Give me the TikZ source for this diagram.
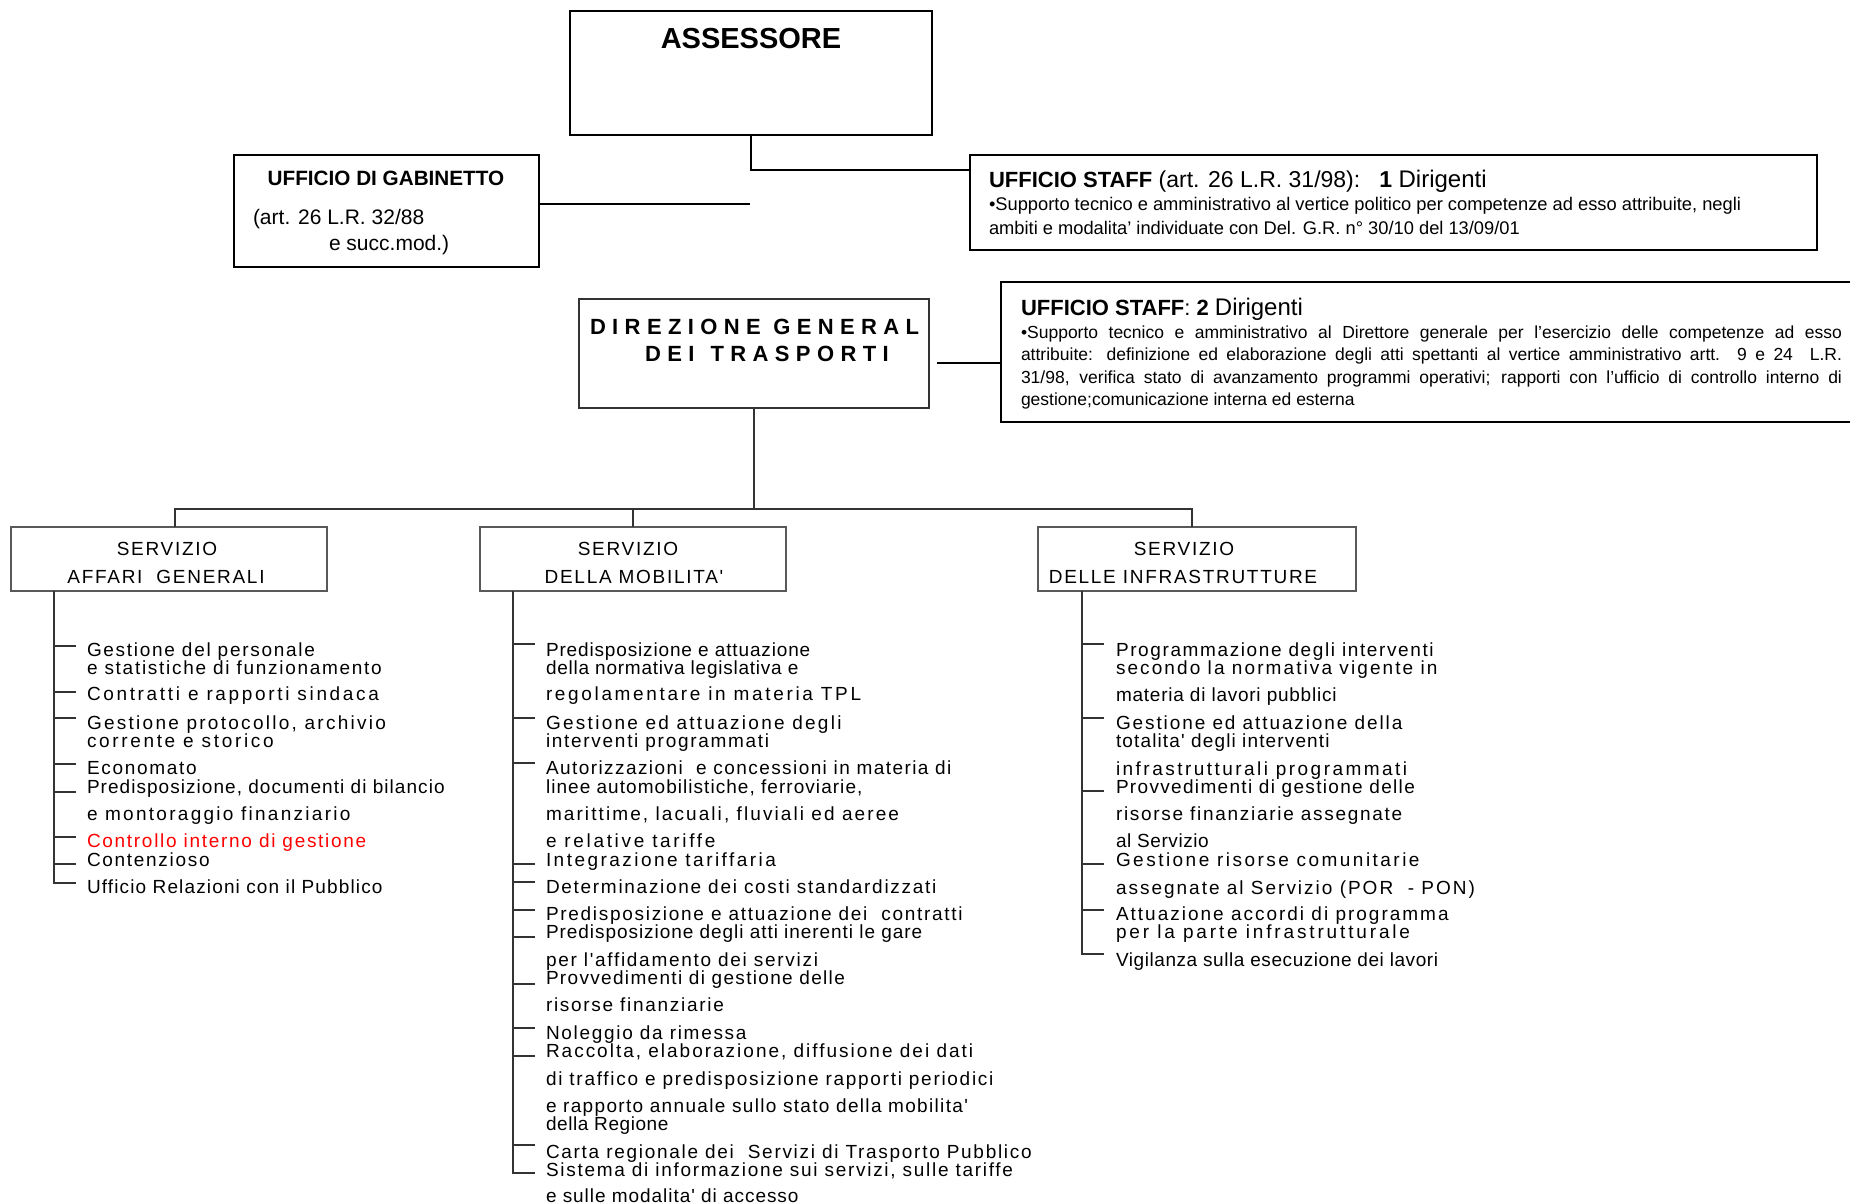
\documentclass[tikz,border=0pt]{standalone}
\usepackage{fontspec}
\setmainfont{Liberation Sans}
\newfontfamily\itemfont{Liberation Sans}
\newfontfamily\dirfont{Liberation Sans}[LetterSpace=29]
\begin{document}
\begin{tikzpicture}[x=1pt,y=-1pt,
  every node/.style={inner sep=0pt,outer sep=0pt},
  topbox/.style={draw=black,line width=2.4pt,anchor=north west},
  dirbox/.style={draw=black!80,line width=1.2pt,anchor=north west},
  servbox/.style={draw=black!65,line width=1.2pt,anchor=north west},
  conn/.style={draw=black!80,line width=1.2pt},
  boldconn/.style={draw=black,line width=2.8pt},
  topconn/.style={draw=black,line width=2.3pt},
  item/.style={anchor=base west,font={\itemfont\fontsize{19}{22}\selectfont\addfontfeature{LetterSpace=#1}}},
  item/.default=9,
  shead/.style={anchor=base,font={\itemfont\fontsize{19}{22}\selectfont\addfontfeature{LetterSpace=9}}},
  ttl/.style={font={\bfseries\fontsize{20.7}{24}\selectfont}},
  body/.style={anchor=base west,font={\fontsize{#1}{20}\selectfont}},
  body/.default=17.5,
  stitle/.style={anchor=base west,font={\fontsize{22}{26}\selectfont}},
  dirtxt/.style={anchor=base west,font={\dirfont\bfseries\fontsize{22}{26}\selectfont}}
]
\useasboundingbox (0,0) rectangle (1850,1203);
\fill[white] (0,0) rectangle (1850,1203);
\clip (0,0) rectangle (1850,1203);

% ---------- top level ----------
\node[topbox,minimum width=362pt,minimum height=124pt] (ass) at (570,11) {};
\node[anchor=base,font={\bfseries\fontsize{29}{32}\selectfont}] (assT) at (751,48) {ASSESSORE};

\node[topbox,minimum width=305pt,minimum height=112pt] (gab) at (234,155) {};
\node[ttl,anchor=base] (gabT) at (386,185) {UFFICIO DI GABINETTO};
\node[anchor=base west,font={\fontsize{21}{24}\selectfont}] (gabA) at (253,224) {(art. 26 L.R. 32/88};
\node[anchor=base west,font={\fontsize{21}{24}\selectfont}] (gabB) at (329,250) {e succ.mod.)};

\node[topbox,minimum width=847pt,minimum height=95pt] (st1) at (970,155) {};
\node[stitle] (st1T) at (989,187) {\textbf{UFFICIO STAFF}\fontsize{23}{26}\selectfont\ (art. 26 L.R. 31/98):\ \ \ \textbf{1} \fontsize{24}{26}\selectfont Dirigenti};
\node[body=18.3] (st1a) at (989,210) {•Supporto tecnico e amministrativo al vertice politico per competenze ad esso attribuite, negli};
\node[body=18.3] (st1b) at (989,234) {ambiti e modalita’ individuate con Del. G.R. n° 30/10 del 13/09/01};

\draw[topconn] (ass.south) |- ([yshift=-15pt]st1.north west);
\coordinate (gabEnd) at (750,204);
\draw[boldconn] (gab.east |- gabEnd) -- (gabEnd);

% ---------- direzione ----------
\node[dirbox,minimum width=350pt,minimum height=109pt] (dir) at (579,299) {};
\node[dirtxt] (dirA) at (590,334) {DIREZIONE GENERAL};
\node[dirtxt] (dirB) at (645,361) {DEI \,TRASPORTI};

\node[topbox,minimum width=870pt,minimum height=140pt] (st2) at (1001,282) {};
\node[stitle] (st2T) at (1021,315) {\textbf{UFFICIO STAFF}: \textbf{2} \fontsize{24}{26}\selectfont Dirigenti};
\node[body] (st2a) at (1021,338) {\makebox[821pt][s]{•Supporto tecnico e amministrativo al Direttore generale per l’esercizio delle competenze ad esso}};
\node[body] (st2b) at (1021,360) {\makebox[821pt][s]{attribuite: definizione ed elaborazione degli atti spettanti al vertice amministrativo artt. 9 e 24 \ L.R.}};
\node[body] (st2c) at (1021,383) {\makebox[821pt][s]{31/98, verifica stato di avanzamento programmi operativi; rapporti con l’ufficio di controllo interno di}};
\node[body] (st2d) at (1021,405) {gestione;comunicazione interna ed esterna};

\coordinate (d2) at (937,363);
\draw[boldconn] (d2) -- (d2 -| st2.west);

% ---------- servizi ----------
\node[servbox,minimum width=316pt,minimum height=64pt] (saff) at (11,527) {};
\node[servbox,minimum width=306pt,minimum height=64pt] (smob) at (480,527) {};
\node[servbox,minimum width=318pt,minimum height=64pt] (sinf) at (1038,527) {};

\node[shead] (saffA) at (167,555) {SERVIZIO};
\node[shead] (saffB) at (166,583) {AFFARI \ GENERALI};
\node[shead] (smobA) at (628,555) {SERVIZIO};
\node[shead] (smobB) at (634,583) {DELLA MOBILITA'};
\node[shead] (sinfA) at (1184,555) {SERVIZIO};
\node[shead] (sinfB) at (1183,583) {DELLE INFRASTRUTTURE};

\coordinate (bus) at (754,509);
\draw[conn] (dir.south) -- (bus);
\draw[conn] ([xshift=6pt]saff.north) |- (bus);
\draw[conn] ([xshift=-5pt]sinf.north) |- (bus);
\draw[conn] (smob.north) -- (smob.north |- bus);

% ---------- tree lines ----------
\coordinate (tA) at (54,883);
\draw[conn] (saff.south -| tA) -- (tA) -- ++(22,0);
\foreach \y in {646,692,718,764,792,837,864} \draw[conn] (54,\y) -- ++(22,0);

\coordinate (tM) at (513,1173);
\draw[conn] (smob.south -| tM) -- (tM) -- ++(22,0);
\foreach \y in {644,718,763,864,882,910,937,984,1028,1056,1145} \draw[conn] (513,\y) -- ++(22,0);

\coordinate (tI) at (1082,954);
\draw[conn] (sinf.south -| tI) -- (tI) -- ++(22,0);
\foreach \y in {644,718,791,864,910} \draw[conn] (1082,\y) -- ++(22,0);

% ---------- items: affari generali ----------
\node[item] (a1) at (87,656) {Gestione del personale};
\node[item] (a2) at (87,674) {e statistiche di funzionamento};
\node[item=14] (a3) at (87,700) {Contratti e rapporti sindaca};
\node[item=12] (a4) at (87,729) {Gestione protocollo, archivio};
\node[item=14] (a5) at (87,747) {corrente e storico};
\node[item] (a6) at (87,774) {Economato};
\node[item=5.5] (a7) at (87,793) {Predisposizione, documenti di bilancio};
\node[item=12] (a8) at (87,820) {e montoraggio finanziario};
\node[item,text=red] (a9) at (87,847) {Controllo interno di gestione};
\node[item] (a10) at (87,866) {Contenzioso};
\node[item=6] (a11) at (87,893) {Ufficio Relazioni con il Pubblico};

% ---------- items: mobilita ----------
\node[item=4.5] (m1) at (546,656) {Predisposizione e attuazione};
\node[item=4] (m2) at (546,674) {della normativa legislativa e};
\node[item=14] (m3) at (546,700) {regolamentare in materia TPL};
\node[item=12] (m4) at (546,729) {Gestione ed attuazione degli};
\node[item] (m5) at (546,747) {interventi programmati};
\node[item=7.5] (m6) at (546,774) {Autorizzazioni \ e concessioni in materia di};
\node[item=5.5] (m7) at (546,793) {linee automobilistiche, ferroviarie,};
\node[item=11] (m8) at (546,820) {marittime, lacuali, fluviali ed aeree};
\node[item=14] (m9) at (546,847) {e relative tariffe};
\node[item=13] (m10) at (546,866) {Integrazione tariffaria};
\node[item] (m11) at (546,893) {Determinazione dei costi standardizzati};
\node[item] (m12) at (546,920) {Predisposizione e attuazione dei \ contratti};
\node[item=5] (m13) at (546,938) {Predisposizione degli atti inerenti le gare};
\node[item] (m14) at (546,966) {per l'affidamento dei servizi};
\node[item=7] (m15) at (546,984) {Provvedimenti di gestione delle};
\node[item] (m16) at (546,1011) {risorse finanziarie};
\node[item] (m17) at (546,1039) {Noleggio da rimessa};
\node[item=10.5] (m18) at (546,1057) {Raccolta, elaborazione, diffusione dei dati};
\node[item] (m19) at (546,1085) {di traffico e predisposizione rapporti periodici};
\node[item=7] (m20) at (546,1112) {e rapporto annuale sullo stato della mobilita'};
\node[item=3] (m21) at (546,1130) {della Regione};
\node[item] (m22) at (546,1158) {Carta regionale dei \ Servizi di Trasporto Pubblico};
\node[item] (m23) at (546,1176) {Sistema di informazione sui servizi, sulle tariffe};
\node[item=5] (m24) at (546,1202) {e sulle modalita' di accesso};

% ---------- items: infrastrutture ----------
\node[item=8.5] (i1) at (1116,656) {Programmazione degli interventi};
\node[item=11] (i2) at (1116,674) {secondo la normativa vigente in};
\node[item=4] (i3) at (1116,701) {materia di lavori pubblici};
\node[item=10] (i4) at (1116,729) {Gestione ed attuazione della};
\node[item=6] (i5) at (1116,747) {totalita' degli interventi};
\node[item=13] (i6) at (1116,775) {infrastrutturali programmati};
\node[item=7] (i7) at (1116,793) {Provvedimenti di gestione delle};
\node[item] (i8) at (1116,820) {risorse finanziarie assegnate};
\node[item=3] (i9) at (1116,847) {al Servizio};
\node[item=13] (i10) at (1116,866) {Gestione risorse comunitarie};
\node[item=10.5] (i11) at (1116,894) {assegnate al Servizio (POR \ - PON)};
\node[item=10.5] (i12) at (1116,920) {Attuazione accordi di programma};
\node[item=15] (i13) at (1116,938) {per la parte infrastrutturale};
\node[item=3] (i14) at (1116,966) {Vigilanza sulla esecuzione dei lavori};
\end{tikzpicture}
\end{document}
